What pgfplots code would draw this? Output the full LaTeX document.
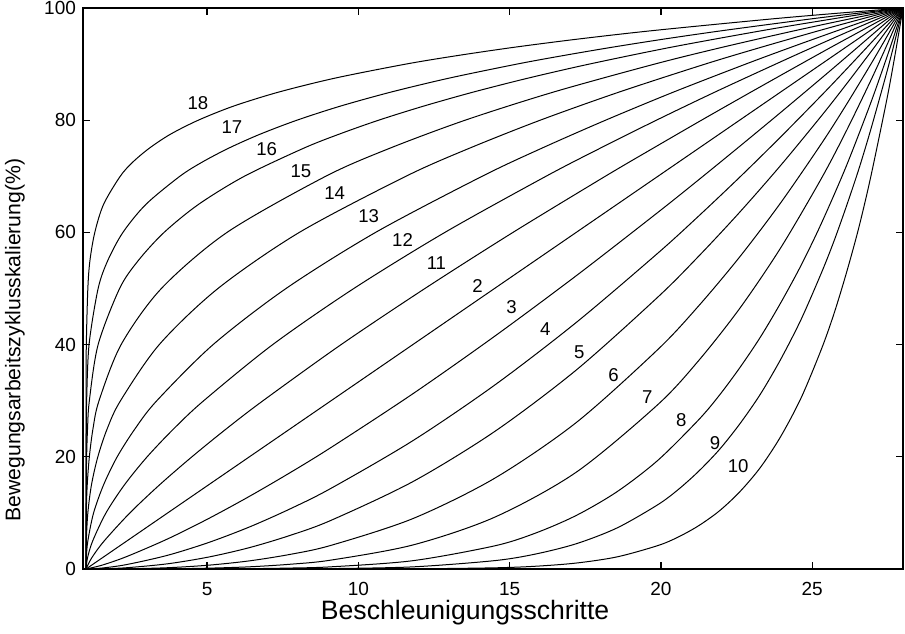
\documentclass[border=0pt]{standalone}
\usepackage{fontspec}
\setmainfont{Liberation Sans}
\usepackage{pgfplots}
\pgfplotsset{compat=1.18}
\tikzset{crv/.style={black, line width=0.5pt, smooth, no markers, line join=round}}
\begin{document}
\begin{tikzpicture}
\begin{axis}[
    name=ax,
    scale only axis,
    width=410pt,
    height=280.5pt,
    xmin=0.9, xmax=28,
    ymin=0, ymax=100,
    xtick={5,10,15,20,25},
    ytick={0,20,40,60,80,100},
    tick align=inside,
    major tick length=3.5pt,
    axis line style={line width=0.75pt},
    every tick/.style={black, line width=0.6pt},
    tick label style={font=\fontsize{9.5}{10}\selectfont},
    /pgf/number format/assume math mode=true,
    xticklabel style={yshift=-3pt},
    xlabel={Beschleunigungsschritte},
    ylabel={Bewegungsarbeitszyklusskalierung(\%)},
    xlabel style={font=\fontsize{13.3}{14}\selectfont,
        at={(axis description cs:0.466,-0.078)}, anchor=center},
    ylabel style={font=\fontsize{10.6}{11}\selectfont,
        at={(axis description cs:-0.083,0.408)}, anchor=center},
]
% 2 (linear)
\addplot[crv] coordinates {(1,0)(28,100)};
% 3 .. 10, below the diagonal
\addplot[crv] coordinates {(1,0)(1.54,0.70)(2.35,2.23)(3.7,5.37)(5.05,8.99)(6.4,12.95)(7.75,17.19)(9.1,21.67)(11.8,31.23)(14.5,41.47)(17.2,52.27)(19.9,63.57)(21.25,69.39)(22.6,75.33)(23.95,81.35)(25.3,87.47)(26.11,91.19)(26.92,94.95)(27.46,97.47)(28,100)};
\addplot[crv] coordinates {(1,0)(1.54,0.18)(2.35,0.80)(3.7,2.45)(5.05,4.72)(6.4,7.49)(7.75,10.73)(9.1,14.39)(11.8,22.87)(14.5,32.76)(17.2,43.94)(19.9,56.31)(21.25,62.93)(22.6,69.82)(23.95,76.98)(25.3,84.39)(26.11,88.97)(26.92,93.64)(27.46,96.80)(28,100)};
\addplot[crv] coordinates {(1,0)(1.54,0.04)(2.35,0.23)(3.7,0.93)(5.05,2.13)(6.4,3.81)(7.75,6.00)(9.1,8.68)(11.8,15.57)(14.5,24.49)(17.2,35.46)(19.9,48.48)(21.25,55.77)(22.6,63.58)(23.95,71.90)(25.3,80.74)(26.11,86.30)(26.92,92.05)(27.46,95.98)(28,100)};
\addplot[crv] coordinates {(1,0)(2.35,0.04)(3.7,0.23)(5.05,0.68)(6.4,1.45)(7.75,2.61)(9.1,4.22)(11.8,8.98)(14.5,16.16)(17.2,26.10)(19.9,39.14)(21.25,46.92)(22.6,55.61)(23.95,65.22)(25.3,75.79)(26.11,82.62)(26.92,89.83)(27.46,94.83)(28,100)};
\addplot[crv] coordinates {(1,0)(3.7,0.04)(5.05,0.15)(6.4,0.39)(7.75,0.85)(9.1,1.59)(11.8,4.28)(14.5,9.22)(17.2,17.25)(19.9,29.32)(21.25,37.17)(22.6,46.42)(23.95,57.18)(25.3,69.59)(26.11,77.90)(26.92,86.90)(27.46,93.29)(28,100)};
\addplot[crv] coordinates {(1,0)(5.05,0.02)(6.4,0.06)(7.75,0.17)(9.1,0.39)(11.8,1.48)(14.5,4.12)(15.85,6.39)(17.2,9.54)(18.55,13.78)(19.9,19.38)(21.25,26.62)(21.93,30.96)(22.6,35.83)(23.28,41.28)(23.95,47.36)(24.63,54.11)(25.3,61.58)(26.11,71.61)(26.92,82.89)(27.46,91.13)(27.73,95.48)(28,100)};
\addplot[crv] coordinates {(1,0)(6.4,0.01)(7.75,0.02)(9.1,0.07)(11.8,0.38)(14.5,1.49)(15.85,2.66)(17.2,4.50)(18.55,7.32)(19.9,11.47)(20.58,14.20)(21.25,17.44)(21.93,21.28)(22.6,25.82)(23.28,31.11)(23.95,37.29)(24.63,44.46)(25.3,52.74)(25.71,58.32)(26.11,64.36)(26.52,70.94)(26.92,78.06)(27.46,88.46)(27.73,94.08)(28,100)};
\addplot[crv] coordinates {(1,0)(9.1,0)(11.8,0.03)(14.5,0.21)(15.85,0.49)(17.2,1.06)(18.55,2.16)(19.9,4.18)(20.58,5.72)(21.25,7.73)(21.93,10.35)(22.6,13.73)(23.28,18.05)(23.95,23.54)(24.63,30.47)(25.3,39.14)(25.71,45.36)(26.11,52.41)(26.52,60.44)(26.92,69.55)(27.46,83.54)(27.73,91.44)(28,100)};
% 11 .. 18, above the diagonal
\addplot[crv] coordinates {(1,0)(1.19,2)(1.60,5)(2.45,10)(3.43,15)(4.50,20)(5.64,25)(6.85,30)(9.43,40)(12.20,50)(15.11,60)(18.16,70)(19.74,75)(21.34,80)(22.97,85)(24.62,90)(25.62,93)(26.64,96)(27.32,98)(28,100)};
\addplot[crv] coordinates {(1,0)(1.05,2)(1.22,5)(1.66,10)(2.27,15)(3.02,20)(3.90,25)(4.89,30)(7.17,40)(9.85,50)(12.86,60)(16.20,70)(17.99,75)(19.85,80)(21.78,85)(23.79,90)(25.02,93)(26.28,96)(27.14,98)(28,100)};
\addplot[crv] coordinates {(1,0)(1.01,2)(1.06,5)(1.25,10)(1.58,15)(2.03,20)(2.62,25)(3.34,30)(5.20,40)(7.61,50)(10.57,60)(14.09,70)(16.06,75)(18.17,80)(20.41,85)(22.80,90)(24.30,93)(25.85,96)(26.91,98)(28,100)};
\addplot[crv] coordinates {(1,0)(1.01,5)(1.06,10)(1.18,15)(1.39,20)(1.70,25)(2.14,30)(3.42,40)(5.36,50)(8.05,60)(11.57,70)(13.67,75)(16.01,80)(18.61,85)(21.46,90)(23.31,93)(25.25,96)(26.60,98)(28,100)};
\addplot[crv] coordinates {(1,0)(1.01,10)(1.04,15)(1.11,20)(1.23,25)(1.43,30)(2.16,40)(3.49,50)(5.66,60)(8.92,70)(11.04,75)(13.53,80)(16.44,85)(19.79,90)(22.03,93)(24.46,96)(26.19,98)(28,100)};
\addplot[crv] coordinates {(1,0)(1.01,15)(1.02,20)(1.05,25)(1.11,30)(1.40,40)(2.11,50)(2.73,55)(3.58,60)(4.72,65)(6.23,70)(8.19,75)(9.36,77.5)(10.67,80)(12.15,82.5)(13.79,85)(15.61,87.5)(17.63,90)(20.33,93)(23.38,96)(25.61,98)(26.78,99)(28,100)};
\addplot[crv] coordinates {(1,0)(1.00,20)(1.01,25)(1.02,30)(1.10,40)(1.40,50)(1.72,55)(2.22,60)(2.98,65)(4.10,70)(4.83,72.5)(5.71,75)(6.75,77.5)(7.97,80)(9.40,82.5)(11.07,85)(13.00,87.5)(15.24,90)(16.75,91.5)(18.38,93)(20.15,94.5)(22.08,96)(24.88,98)(26.40,99)(28,100)};
\addplot[crv] coordinates {(1,0)(1,30)(1.01,40)(1.06,50)(1.13,55)(1.29,60)(1.58,65)(2.13,70)(2.54,72.5)(3.09,75)(3.79,77.5)(4.71,80)(5.87,82.5)(7.36,85)(9.23,87.5)(11.57,90)(13.25,91.5)(15.15,93)(17.32,94.5)(19.78,96)(23.56,98)(25.69,99)(28,100)};
% curve numbers
\begin{scope}[every node/.style={font=\fontsize{9.3}{10}\selectfont, inner sep=0pt}]
\node at (axis cs:4.70,83.0) {18};
\node at (axis cs:5.82,78.8) {17};
\node at (axis cs:6.97,74.8) {16};
\node at (axis cs:8.10,70.9) {15};
\node at (axis cs:9.22,67.0) {14};
\node at (axis cs:10.34,62.9) {13};
\node at (axis cs:11.46,58.6) {12};
\node at (axis cs:12.58,54.6) {11};
\node at (axis cs:13.94,50.5) {2};
\node at (axis cs:15.06,46.6) {3};
\node at (axis cs:16.18,42.7) {4};
\node at (axis cs:17.30,38.6) {5};
\node at (axis cs:18.43,34.6) {6};
\node at (axis cs:19.55,30.7) {7};
\node at (axis cs:20.67,26.6) {8};
\node at (axis cs:21.79,22.5) {9};
\node at (axis cs:22.55,18.4) {10};
\end{scope}
\end{axis}
\pgfresetboundingbox
\path[use as bounding box] ([xshift=-41.5pt,yshift=-32pt]ax.south west) rectangle ([xshift=1pt,yshift=4pt]ax.north east);
\end{tikzpicture}
\end{document}
